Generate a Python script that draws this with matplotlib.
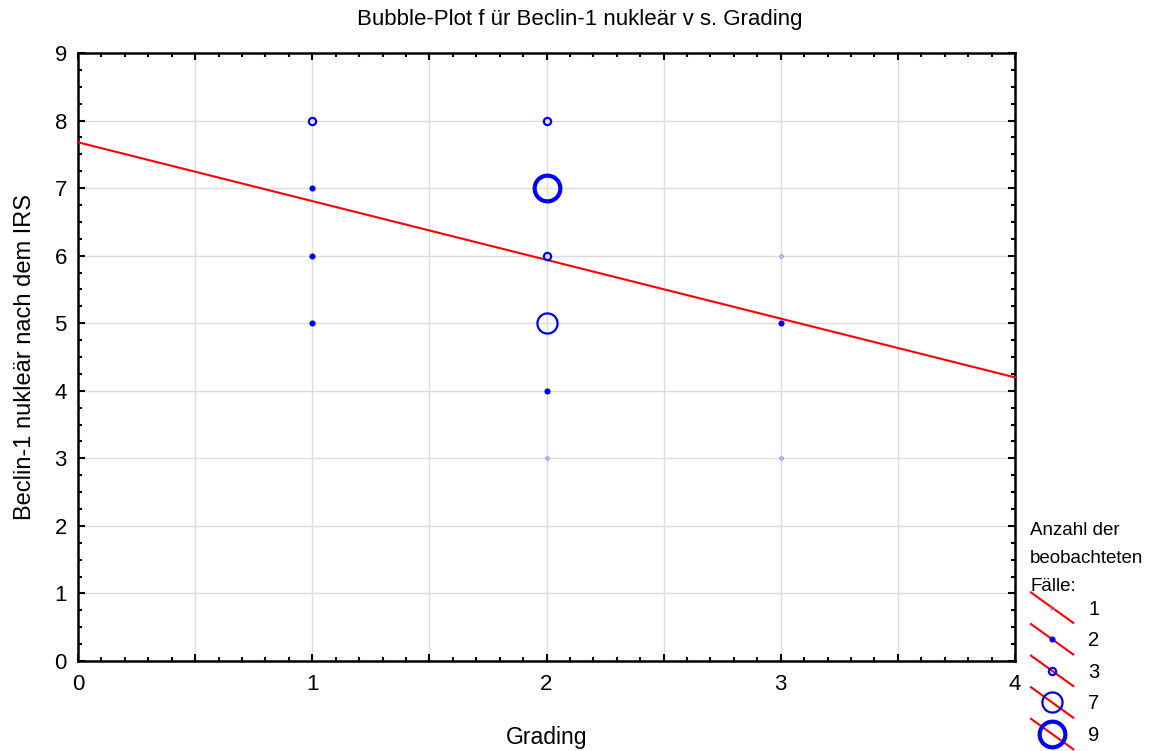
import numpy as np
import matplotlib
matplotlib.use("Agg")
import matplotlib.pyplot as plt
from matplotlib.lines import Line2D
from matplotlib.legend_handler import HandlerBase
from matplotlib.ticker import MultipleLocator

plt.rcParams["font.family"] = ["Liberation Sans", "DejaVu Sans"]

# observations: grading, Beclin-1 IRS score, number of cases
grading = [1, 1, 1, 1, 2, 2, 2, 2, 2, 2, 3, 3, 3]
irs = [8, 7, 6, 5, 8, 7, 6, 5, 4, 3, 6, 5, 3]
cases = [3, 2, 2, 2, 3, 9, 3, 7, 2, 1, 1, 2, 1]

legend_counts = [1, 2, 3, 7, 9]
xtick_labels = ["0", "", "1", "", "2", "", "3", "", "4"]

# marker look per case count: (size, face, edge, edgewidth)
STYLE = {
    1: dict(ms=2.4, mfc="none", mec="#8080ff", mew=0.7),
    2: dict(ms=3.6, mfc="#0000ff", mec="#0000ff", mew=0.8),
    3: dict(ms=5.2, mfc="none", mec="#0000ff", mew=1.6),
    7: dict(ms=14.5, mfc="none", mec="#0000ff", mew=1.6),
    9: dict(ms=18.5, mfc="none", mec="#0000ff", mew=3.0),
}


class DiagHandler(HandlerBase):
    # red fit line drawn diagonally through the bubble, like the original
    def create_artists(self, legend, orig_handle, xdescent, ydescent,
                       width, height, fontsize, trans):
        x0, x1 = -xdescent, width - xdescent
        y0, y1 = height - ydescent + 4, -ydescent - 4
        ln = Line2D([x0, x1], [y0, y1], color="red", lw=1.5)
        ln.set_transform(trans)
        mk = Line2D([(x0 + x1) / 2], [(y0 + y1) / 2], ls="none", marker="o",
                    **STYLE[orig_handle.count])
        mk.set_transform(trans)
        return [ln, mk]


fig = plt.figure(figsize=(11.55, 7.51), dpi=100)
ax = fig.add_axes([78 / 1155, 1 - 661 / 751, 937 / 1155, 608 / 751])

for x, y, n in zip(grading, irs, cases):
    ax.plot([x], [y], ls="none", marker="o", zorder=4, **STYLE[n])

# least-squares fit through all cases (each case counted once)
xs = np.repeat(grading, cases)
ys = np.repeat(irs, cases)
slope, icpt = np.polyfit(xs, ys, 1)
xl = np.array([0, 4])
ax.plot(xl, icpt + slope * xl, color="red", lw=1.5, zorder=3, clip_on=False)

ax.set_xlim(0, 4)
ax.set_ylim(0, 9)
ax.set_xticks(np.arange(0, 4.01, 0.5))
ax.set_xticklabels(xtick_labels)
ax.xaxis.set_minor_locator(MultipleLocator(0.1))
ax.yaxis.set_major_locator(MultipleLocator(1))
ax.yaxis.set_minor_locator(MultipleLocator(0.25))
ax.grid(True, which="major", color="#dcdcdc", lw=1)
ax.set_axisbelow(True)
ax.tick_params(which="both", direction="in", top=True, right=True,
               labelsize=16, width=1.5, color="black")
ax.tick_params(which="major", length=5)
ax.tick_params(which="minor", length=3)
ax.tick_params(axis="x", pad=9)
ax.tick_params(axis="y", pad=8)
for s in ax.spines.values():
    s.set_linewidth(1.8)

ax.set_xlabel("Grading", fontsize=16.5, labelpad=23)
ax.set_ylabel("Beclin-1 nukleär nach dem IRS", fontsize=17, labelpad=13)
ax.set_title("Bubble-Plot f ür Beclin-1 nukleär v s. Grading", fontsize=16,
             pad=20, x=0.535)

handles = []
for n in legend_counts:
    h = Line2D([], [], label=str(n))
    h.count = n
    handles.append(h)
fig.text(1030 / 1155, 1 - 522 / 751, "Anzahl der\nbeobachteten\nFälle:",
         fontsize=13.5, va="top", ha="left", linespacing=1.85)
fig.legend(handles=handles, labels=[str(n) for n in legend_counts],
           handler_map={Line2D: DiagHandler()}, loc="upper left",
           bbox_to_anchor=(1031 / 1155, 1 - 598 / 751), frameon=False,
           fontsize=14.5, handlelength=2.1, handleheight=1.1, labelspacing=0.55,
           handletextpad=0.75, borderpad=0, borderaxespad=0)

fig.savefig("out.png", dpi=100)
